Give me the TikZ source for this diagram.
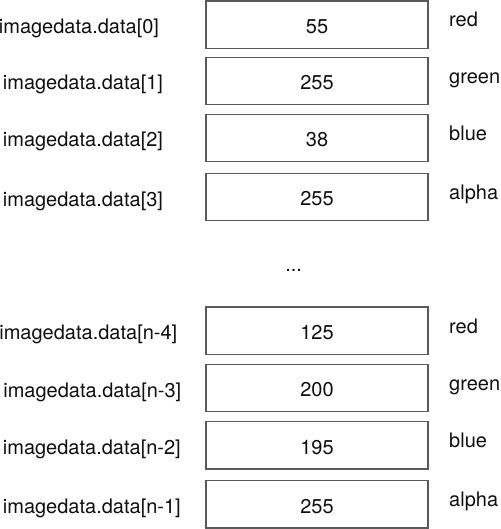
\documentclass[tikz,border=0pt]{standalone}
\usepackage{fontspec}
\setmainfont{TeX Gyre Heros}
\usetikzlibrary{calc}
\definecolor{edge}{RGB}{90,90,90}
\definecolor{ink}{RGB}{15,15,15}
\tikzset{
  txt/.style={text=ink, font=\fontsize{20}{24}\selectfont},
  cell/.style={txt, draw=edge, line width=1.5pt, fill=white, minimum width=222pt,
    minimum height=47.4pt, inner sep=0pt, text height=17.6pt, text depth=0pt},
  idx/.style={txt, anchor=base west, inner sep=0pt},
  chan/.style={txt, anchor=base west, inner sep=0pt}
}
\begin{document}
\begin{tikzpicture}[x=1pt, y=-1pt]
  \useasboundingbox (0,0) rectangle (500,529);
  % top edge / name / index / value / channel / label x
  \foreach \t/\k/\i/\v/\c/\lx in {
      1/a/0/55/red/-1.3,
      57.3/b/1/255/green/2.7,
      114.3/c/2/38/blue/2.7,
      173.3/d/3/255/alpha/2.7,
      307/e/n-4/125/red/-0.8,
      364.3/f/n-3/200/green/3.2,
      421.7/g/n-2/195/blue/2.7,
      480.7/h/n-1/255/alpha/2.7} {
    \node[cell] (box\k) at (317, \t+23.7) {\v};
    \node[idx] (idx\k) at (\lx, \t+32.7) {imagedata.data[\i]};
    \node[chan] (chan\k) at (449, \t+26) {\c};
  }
  \node[txt, anchor=base, inner sep=0pt] (gap) at (293.7, 271.8) {...};
\end{tikzpicture}
\end{document}
